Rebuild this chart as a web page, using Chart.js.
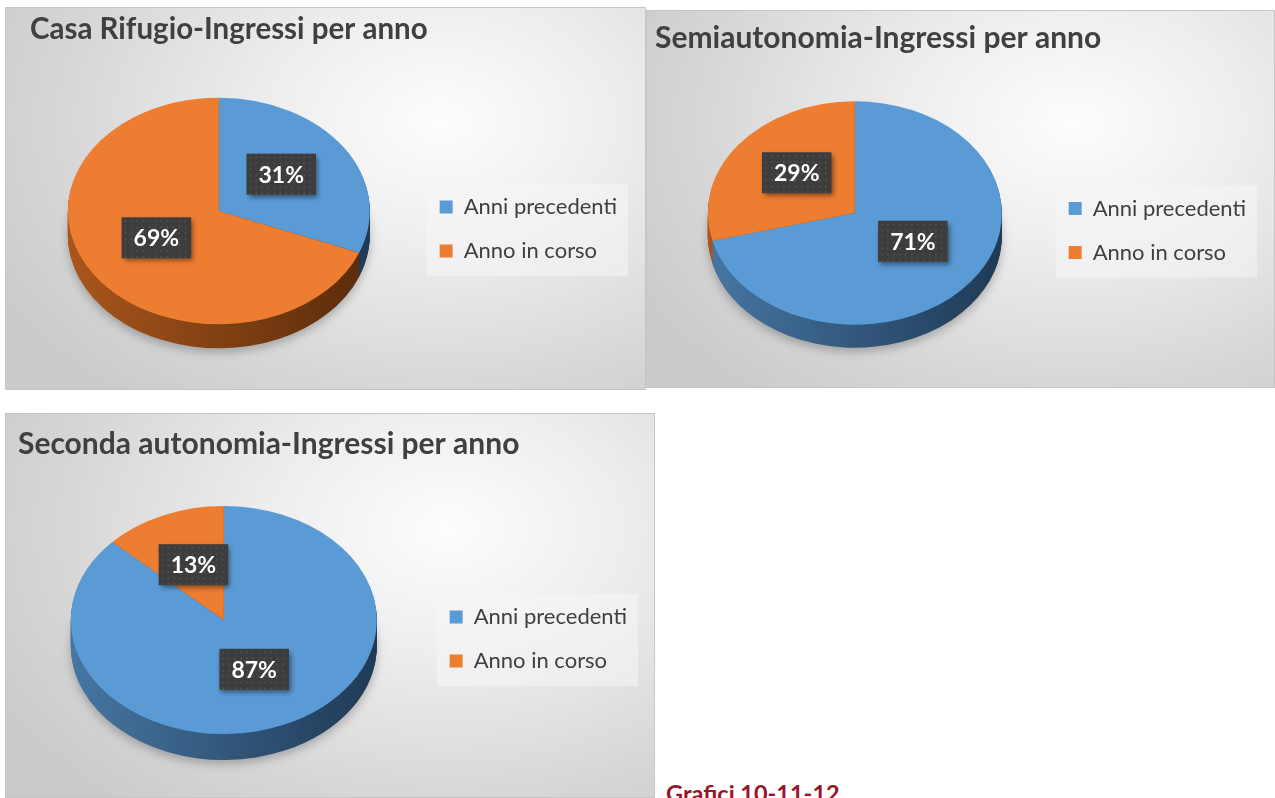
<!DOCTYPE html>
<html lang="it">
<head>
    <meta charset="UTF-8">
    <title>Ingressi per anno</title>
    <script src="https://cdn.jsdelivr.net/npm/chart.js"></script>
    <style>
        body {
            margin: 0;
            background: white;
            width: 1275px;
            height: 798px;
            overflow: hidden;
            position: relative;
            font-family: Lato, 'Open Sans', sans-serif;
        }
        .panel {
            position: absolute;
            background: radial-gradient(ellipse 80% 95% at 68% 30%, #fdfdfd 0%, #ededed 35%, #d6d6d6 75%, #cacaca 100%);
            box-shadow: inset 0 0 0 1px #c6c6c6;
        }
        .panel canvas {
            position: absolute;
            left: 0;
            top: 0;
        }
        .caption {
            position: absolute;
            left: 666px;
            top: 779px;
            font-weight: bold;
            font-size: 23.5px;
            color: #98162b;
            white-space: nowrap;
        }
    </style>
</head>
<body>
    <div class="panel" style="left:5px;top:7px;width:641px;height:383px">
        <canvas id="chart1" width="641" height="383"></canvas>
    </div>
    <div class="panel" style="left:646px;top:10px;width:629px;height:378px">
        <canvas id="chart2" width="629" height="378"></canvas>
    </div>
    <div class="panel" style="left:5px;top:413px;width:650px;height:385px">
        <canvas id="chart3" width="650" height="385"></canvas>
    </div>
    <div class="caption">Grafici 10-11-12</div>

    <script>
        // dati
        const categories = ['Anni precedenti', 'Anno in corso'];
        const casaRifugio = [31, 69];
        const semiautonomia = [71, 29];
        const secondaAutonomia = [87, 13];
        const titles = [
            'Casa Rifugio-Ingressi per anno',
            'Semiautonomia-Ingressi per anno',
            'Seconda autonomia-Ingressi per anno'
        ];

        const faceColors = ['#5b9bd5', '#ed7d31'];
        const sideLight = ['#4676a3', '#a9561c'];
        const sideDark = ['#1f3a55', '#5a2b0b'];

        // draws an arc element with another fill, without touching its options
        function drawArcWith(arc, ctx, fill) {
            const copy = Object.create(arc);
            copy.options = Object.assign({}, arc.options, { backgroundColor: fill, borderWidth: 0 });
            arc.draw.call(copy, ctx);
        }

        // fake 3D: squash the pie and extrude a side wall under it
        const tiltPlugin = {
            id: 'tilt3d',
            beforeDatasetsDraw(chart, args, opts) {
                const arcs = chart.getDatasetMeta(0).data;
                if (!arcs.length) return;
                const { x, y, outerRadius } = arcs[0];
                const ctx = chart.ctx;
                for (let d = opts.depth; d >= 1; d--) {
                    ctx.save();
                    if (d === opts.depth) {
                        ctx.shadowColor = 'rgba(0,0,0,0.25)';
                        ctx.shadowBlur = 10;
                        ctx.shadowOffsetY = 4;
                    }
                    ctx.translate(x + opts.dx, y + opts.dy + d);
                    ctx.scale(1, opts.tilt);
                    ctx.translate(-x, -y);
                    arcs.forEach((arc, i) => {
                        const g = ctx.createLinearGradient(x - outerRadius, 0, x + outerRadius, 0);
                        g.addColorStop(0, sideLight[i]);
                        g.addColorStop(1, sideDark[i]);
                        drawArcWith(arc, ctx, g);
                    });
                    ctx.restore();
                }
                ctx.save();
                ctx.translate(x + opts.dx, y + opts.dy);
                ctx.scale(1, opts.tilt);
                ctx.translate(-x, -y);
            },
            afterDatasetsDraw(chart, args, opts) {
                const ctx = chart.ctx;
                ctx.restore();
                const arcs = chart.getDatasetMeta(0).data;
                const values = chart.data.datasets[0].data;
                arcs.forEach((arc, i) => {
                    const c = arc.getCenterPoint();
                    const px = c.x + opts.dx;
                    const py = arc.y + opts.dy + (c.y - arc.y) * opts.tilt + opts.labelDy;
                    const text = values[i] + '%';
                    ctx.save();
                    ctx.font = 'bold 23px Lato';
                    const w = ctx.measureText(text).width + 24;
                    const h = 41;
                    const left = px - w / 2, top = py - h / 2;
                    ctx.shadowColor = 'rgba(0,0,0,0.45)';
                    ctx.shadowBlur = 5;
                    ctx.shadowOffsetX = 2;
                    ctx.shadowOffsetY = 3;
                    ctx.fillStyle = '#3d3d3d';
                    ctx.fillRect(left, top, w, h);
                    ctx.shadowColor = 'transparent';
                    ctx.fillStyle = 'rgba(255,255,255,0.13)';
                    for (let gx = left + 3; gx < left + w - 1; gx += 6) {
                        for (let gy = top + 3; gy < top + h - 1; gy += 6) {
                            ctx.fillRect(gx, gy, 1.5, 1.5);
                        }
                    }
                    ctx.fillStyle = '#ffffff';
                    ctx.textAlign = 'center';
                    ctx.textBaseline = 'middle';
                    ctx.fillText(text, px, py + 1);
                    ctx.restore();
                });
            }
        };

        // light box behind the legend
        const legendBoxPlugin = {
            id: 'legendBox',
            beforeDraw(chart) {
                const boxes = chart.legend && chart.legend.legendHitBoxes;
                if (!boxes || !boxes.length) return;
                const left = Math.min(...boxes.map(b => b.left)) - 13;
                const right = Math.max(...boxes.map(b => b.left + b.width)) + 11;
                const top = Math.min(...boxes.map(b => b.top)) - 12;
                const bottom = Math.max(...boxes.map(b => b.top + b.height)) + 14;
                const ctx = chart.ctx;
                ctx.save();
                ctx.fillStyle = 'rgba(245,245,245,0.55)';
                ctx.fillRect(left, top, right - left, bottom - top);
                ctx.restore();
            }
        };

        function makeChart(id, title, values, cfg) {
            return new Chart(document.getElementById(id), {
                type: 'pie',
                data: {
                    labels: categories,
                    datasets: [{
                        data: values,
                        backgroundColor: faceColors,
                        borderWidth: 0,
                        radius: cfg.radius,
                        clip: false
                    }]
                },
                options: {
                    responsive: false,
                    animation: false,
                    layout: {
                        padding: { left: cfg.padLeft, right: cfg.padRight, top: 0, bottom: 0 }
                    },
                    plugins: {
                        title: {
                            display: true,
                            text: title,
                            align: 'start',
                            color: '#404040',
                            font: { family: 'Lato', size: cfg.titleSize, weight: 'bold' },
                            padding: { top: cfg.titleTop, bottom: cfg.titleBottom }
                        },
                        legend: {
                            position: 'right',
                            fullSize: false,
                            labels: {
                                color: '#404040',
                                boxWidth: 13,
                                boxHeight: 13,
                                padding: 22,
                                font: { family: 'Lato', size: 22 }
                            }
                        },
                        tooltip: { enabled: false },
                        tilt3d: { tilt: cfg.tilt, depth: cfg.depth, dx: cfg.dx, dy: cfg.dy, labelDy: cfg.labelDy }
                    }
                },
                plugins: [tiltPlugin, legendBoxPlugin]
            });
        }

        makeChart('chart1', titles[0], casaRifugio, {
            radius: 151, padLeft: 25, padRight: 19, titleSize: 29.5, titleTop: 4.7, titleBottom: 20.9,
            tilt: 0.75, depth: 24, dx: -5, dy: -18, labelDy: -5
        });
        makeChart('chart2', titles[1], semiautonomia, {
            radius: 147, padLeft: 9, padRight: 19, titleSize: 30, titleTop: 10.2, titleBottom: 16.8,
            tilt: 0.76, depth: 23, dx: 4, dy: -17.5, labelDy: -6
        });
        makeChart('chart3', titles[2], secondaAutonomia, {
            radius: 153, padLeft: 13, padRight: 18, titleSize: 30, titleTop: 13.2, titleBottom: 17.8,
            tilt: 0.745, depth: 26, dx: 1, dy: -19, labelDy: -3
        });
    </script>
</body>
</html>
